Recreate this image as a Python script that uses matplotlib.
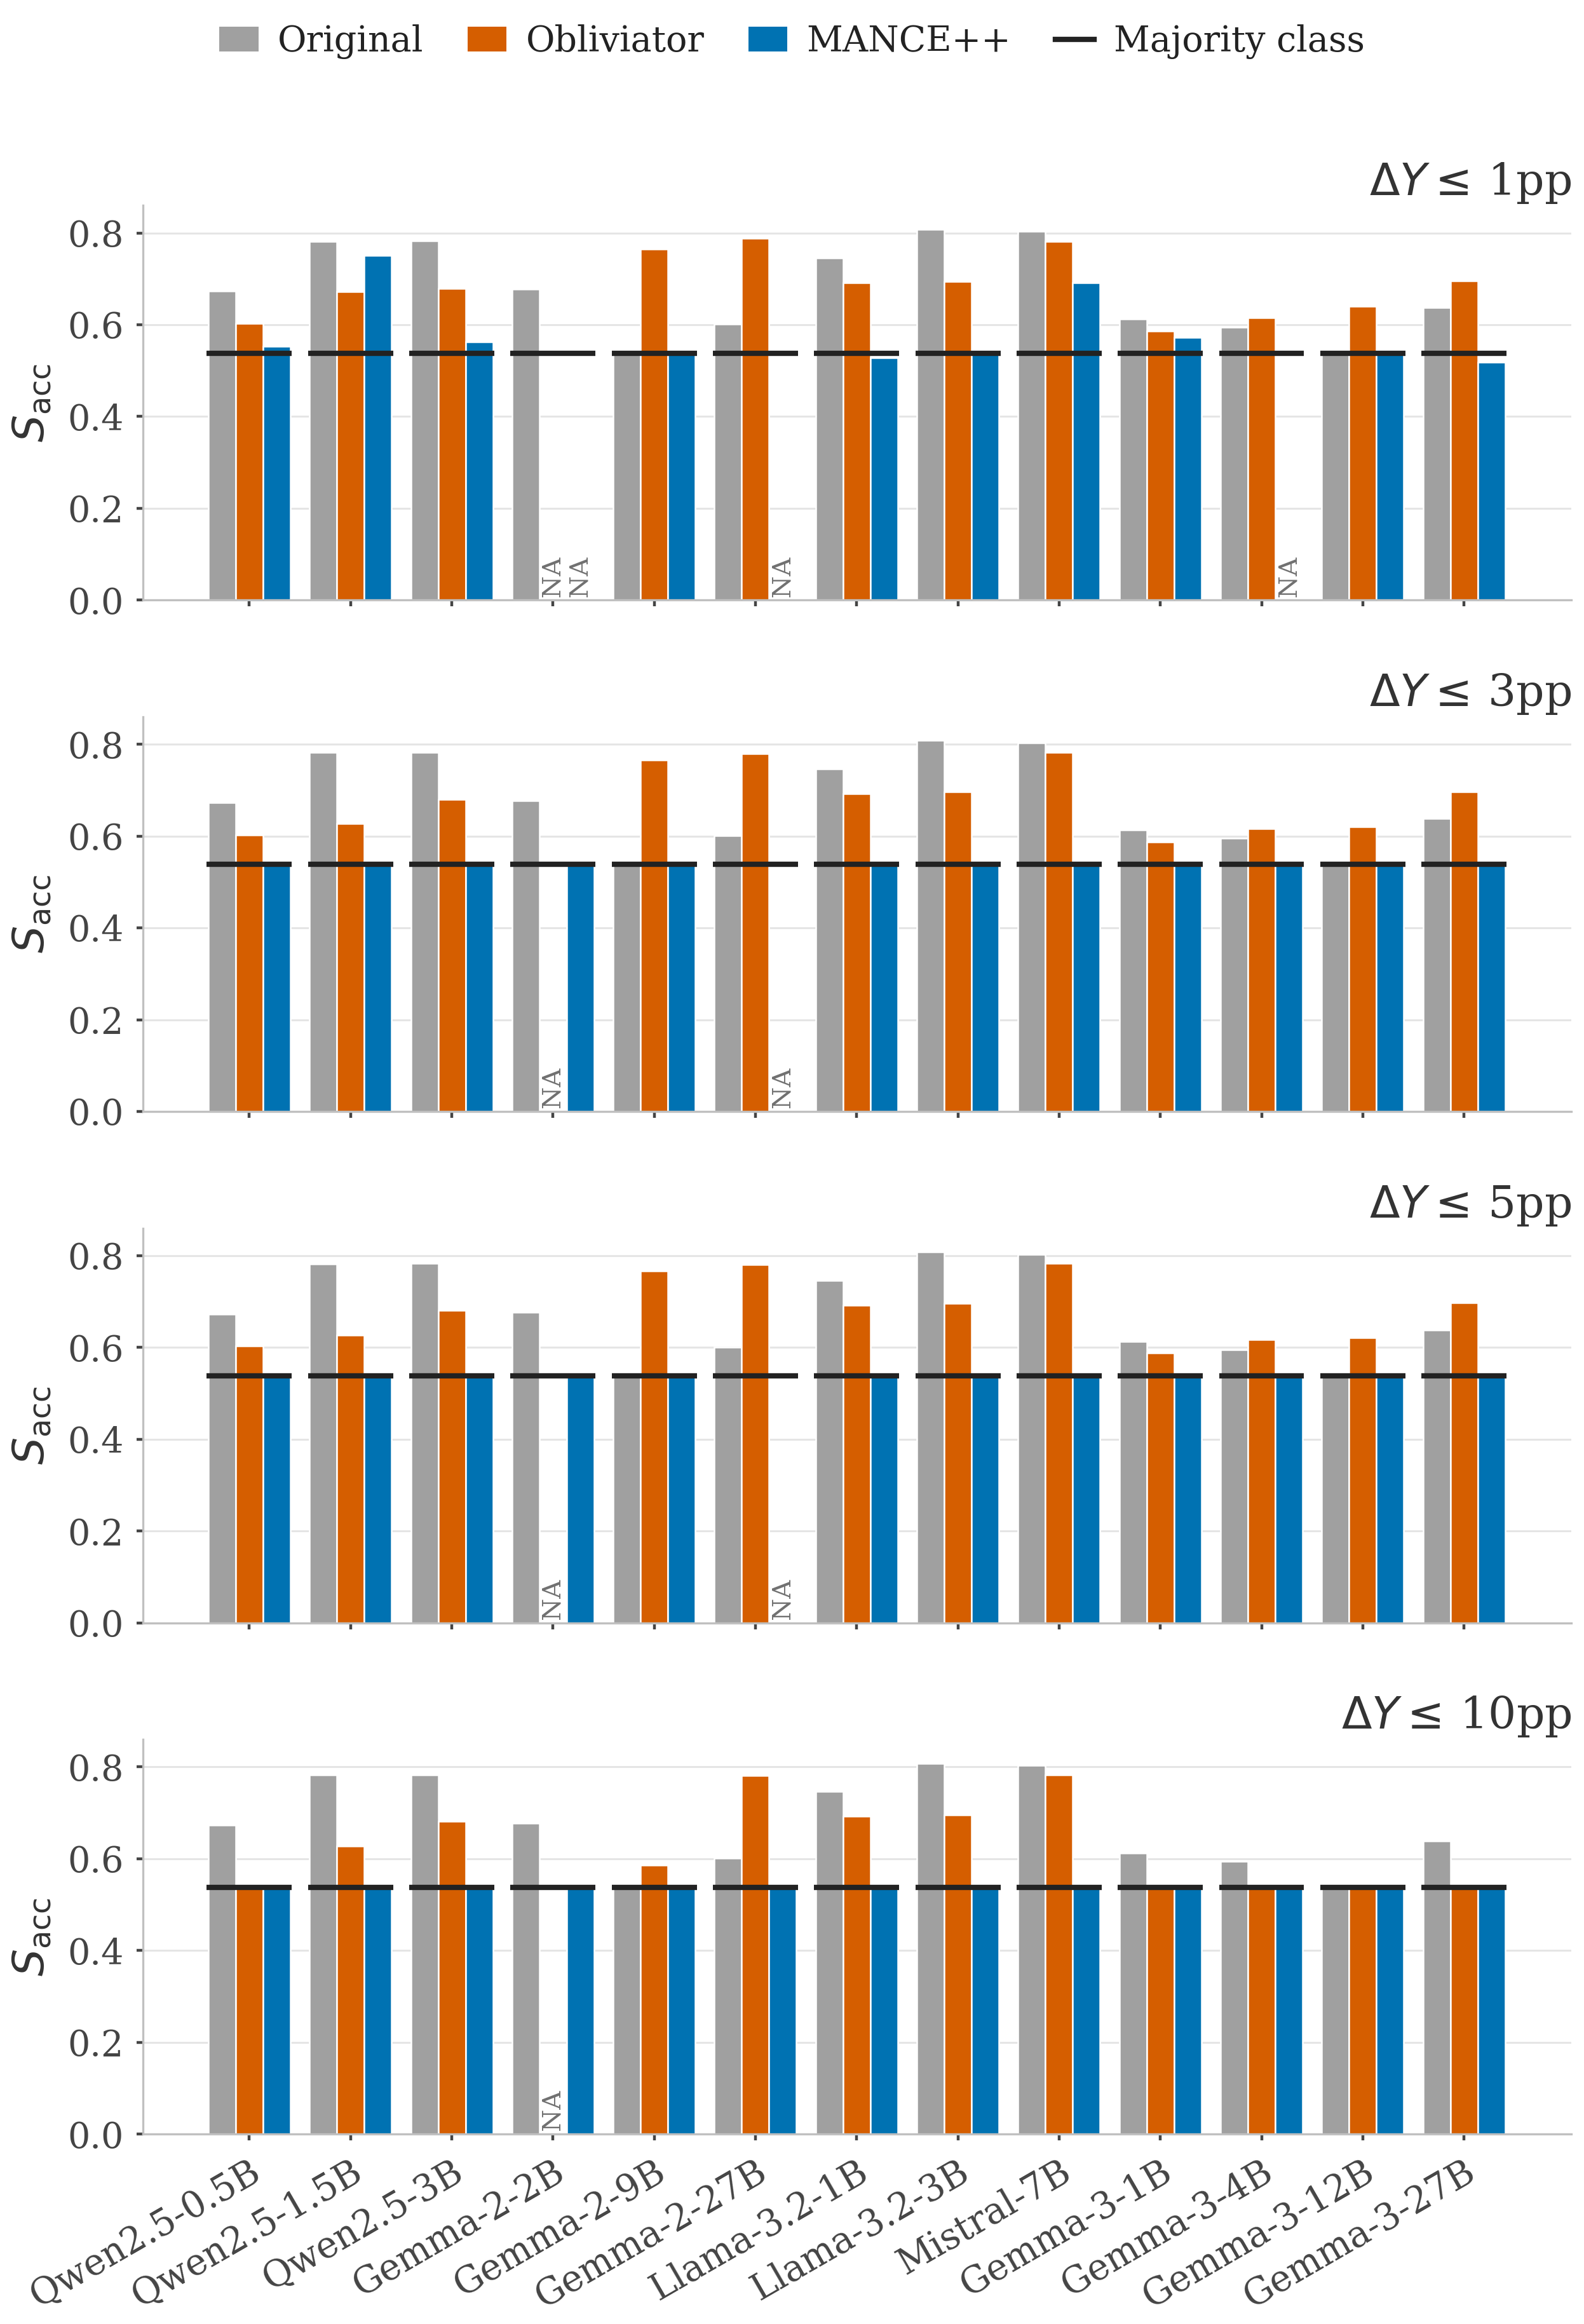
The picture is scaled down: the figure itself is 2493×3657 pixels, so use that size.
import numpy as np
import matplotlib
matplotlib.use("Agg")
import matplotlib.pyplot as plt
from matplotlib.patches import Patch
from matplotlib.lines import Line2D

plt.rcParams['font.family'] = ['DejaVu Serif']

models = ["Qwen2.5-0.5B", "Qwen2.5-1.5B", "Qwen2.5-3B", "Gemma-2-2B", "Gemma-2-9B",
          "Gemma-2-27B", "Llama-3.2-1B", "Llama-3.2-3B", "Mistral-7B", "Gemma-3-1B",
          "Gemma-3-4B", "Gemma-3-12B", "Gemma-3-27B"]
thresholds = ["1pp", "3pp", "5pp", "10pp"]
NA = np.nan
majority = 0.538

original = [0.673, 0.782, 0.783, 0.677, 0.538, 0.601, 0.746, 0.808, 0.803, 0.613, 0.595, 0.538, 0.638]

obliviator_1 = [0.603, 0.672, 0.679, NA, 0.765, 0.789, 0.691, 0.694, 0.781, 0.586, 0.615, 0.640, 0.696]
obliviator_3 = [0.603, 0.627, 0.680, NA, 0.766, 0.780, 0.692, 0.696, 0.783, 0.587, 0.616, 0.621, 0.696]
obliviator_5 = [0.603, 0.627, 0.681, NA, 0.766, 0.780, 0.692, 0.696, 0.783, 0.588, 0.617, 0.621, 0.697]
obliviator_10 = [0.538, 0.627, 0.681, NA, 0.586, 0.781, 0.692, 0.696, 0.783, 0.538, 0.538, 0.538, 0.538]

mance_1 = [0.553, 0.751, 0.563, NA, 0.538, NA, 0.528, 0.538, 0.691, 0.573, NA, 0.538, 0.518]
mance_3 = [0.538, 0.545, 0.538, 0.538, 0.538, NA, 0.538, 0.538, 0.538, 0.538, 0.538, 0.538, 0.538]
mance_5 = [0.538, 0.538, 0.538, 0.538, 0.538, NA, 0.538, 0.538, 0.538, 0.538, 0.538, 0.538, 0.538]
mance_10 = [0.538, 0.538, 0.538, 0.538, 0.538, 0.538, 0.538, 0.538, 0.538, 0.538, 0.538, 0.538, 0.538]

obliviator = [obliviator_1, obliviator_3, obliviator_5, obliviator_10]
mance = [mance_1, mance_3, mance_5, mance_10]

series_names = ["Original", "Obliviator", "MANCE++"]
colors = ["#a0a0a0", "#d55e00", "#0072b2"]

fig, axes = plt.subplots(4, 1, figsize=(12.465, 18.285), dpi=200)
fig.subplots_adjust(left=0.0903, right=0.992, top=0.9116, bottom=0.0817, hspace=0.2955)

x = np.arange(len(models))
w = 0.27

for i, ax in enumerate(axes):
    for j, vals in enumerate([original, obliviator[i], mance[i]]):
        v = np.array(vals, dtype=float)
        ok = ~np.isnan(v)
        pos = x + (j - 1) * w
        ax.bar(pos[ok], v[ok], w, color=colors[j], edgecolor='white', linewidth=0.9, zorder=2)
        # missing runs get a small rotated tag
        for k in np.where(~ok)[0]:
            ax.text(pos[k], 0.008, "NA", rotation=90, ha='center', va='bottom',
                    fontsize=14.5, color='#707070', zorder=4)
    ax.hlines(np.full(len(x), majority), x - 0.42, x + 0.42, color='#222222', lw=3, zorder=3)

    ax.set_xlim(-1.05, 13.06)
    ax.set_ylim(0, 0.86)
    ax.set_yticks([0.0, 0.2, 0.4, 0.6, 0.8])
    ax.set_yticklabels(["0.0", "0.2", "0.4", "0.6", "0.8"])
    ax.set_xticks(x)
    if i == len(axes) - 1:
        ax.set_xticklabels(models, rotation=30, ha='right', rotation_mode='anchor', fontsize=20.5)
    else:
        ax.set_xticklabels([])
    ax.tick_params(axis='both', labelcolor='#444444', color='#444444',
                   length=3.6, width=1.6, pad=7.5)
    ax.tick_params(axis='y', labelsize=20)
    ax.yaxis.grid(True, color='#e5e5e5', lw=1.1)
    ax.set_axisbelow(True)
    for s in ['top', 'right']:
        ax.spines[s].set_visible(False)
    for s in ['left', 'bottom']:
        ax.spines[s].set_color('#c0c0c0')
        ax.spines[s].set_linewidth(1.2)
    ax.set_ylabel(r'$S_{\mathrm{acc}}$', fontsize=24.5, color='#333333', labelpad=8)
    ax.set_title(r'$\Delta Y \leq\,$' + thresholds[i], loc='right', fontsize=25, color='#333333')

handles = [Patch(facecolor=c, edgecolor='none') for c in colors]
handles.append(Line2D([0], [0], color='#222222', lw=3))
labels = series_names + ["Majority class"]
fig.legend(handles, labels, loc='center', bbox_to_anchor=(0.5, 0.982), ncol=4, frameon=False,
           fontsize=20, handlelength=1.1, handletextpad=0.55, columnspacing=1.25,
           labelcolor='#222222')

fig.savefig("out.png", dpi=200)
